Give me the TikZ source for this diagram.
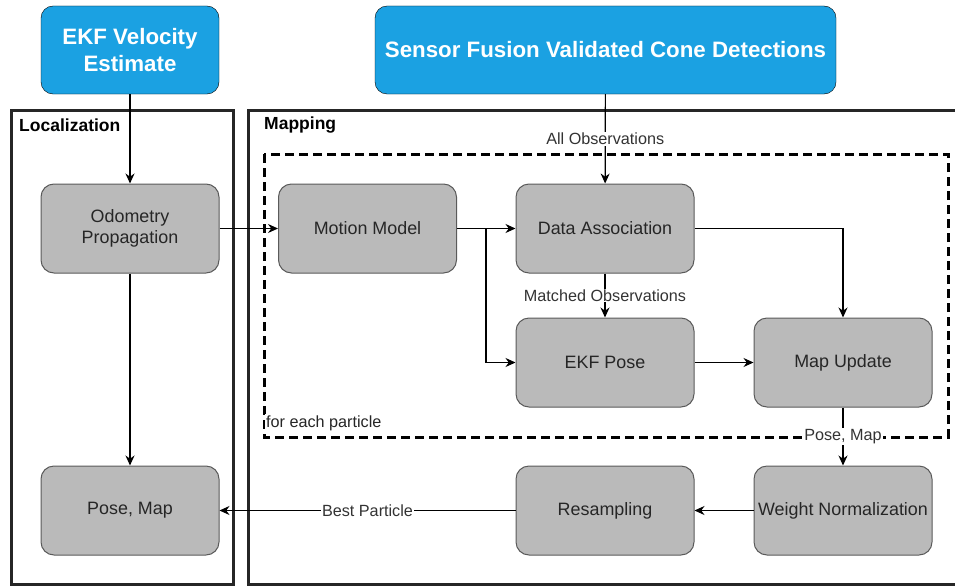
\documentclass[tikz,border=0pt]{standalone}
\usepackage{fontspec}
\setmainfont{Liberation Sans}
\usetikzlibrary{arrows.meta}

\definecolor{srcblue}{HTML}{1BA1E2}
\definecolor{blockgray}{HTML}{BABABA}
\definecolor{blockline}{HTML}{5A5A5A}

\tikzset{
  source/.style={draw=black, fill=srcblue, rounded corners=12pt, text=white,
    font=\fontsize{22.3}{27}\selectfont\bfseries, align=center,
    minimum height=88pt, inner sep=0pt},
  block/.style={draw=blockline, fill=blockgray, line width=1pt, rounded corners=13pt,
    minimum width=178pt, minimum height=89pt, align=center, text=black!85,
    font=\fontsize{17.9}{21.5}\selectfont, inner sep=0pt},
  flow/.style={-{Stealth[length=10pt,width=9pt]}, line width=1.2pt},
  lbl/.style={fill=white, inner sep=1pt, text=black!80,
    font=\fontsize{16.2}{19}\selectfont},
  frame/.style={draw=black!85, line width=3pt},
  title/.style={anchor=west, inner sep=0pt, font=\fontsize{17.5}{21}\selectfont\bfseries},
}

\begin{document}
\begin{tikzpicture}[x=1pt, y=1pt]

    \useasboundingbox (0, 0) rectangle (955, -586);

    % frames
    \draw[frame] (11, -110) rectangle (233.5, -584.5);
    \draw[frame] (248.5, -110) rectangle (980, -584.5);
    \draw[line width=3pt, dash pattern=on 9pt off 5pt] (264, -154) rectangle (948, -437);

    \node[title] (loc) at (19, -125) {Localization};
    \node[title] (map) at (264, -125) {Mapping};

    % inputs
    \node[source, minimum width=178pt] (ekfvel) at (130, -50) {EKF Velocity\\Estimate};
    \node[source, minimum width=461pt] (fusion) at (605.5, -50) {Sensor Fusion Validated Cone Detections};

    % blocks
    \node[block] (odom) at (130, -228.5) {Odometry\\Propagation};
    \node[block] (motion) at (367.5, -228.5) {Motion Model};
    \node[block] (assoc) at (605, -228.5) {Data Association};
    \node[block] (ekfpose) at (605, -362.5) {EKF Pose};
    \node[block] (mapup) at (843, -362.5) {Map Update};
    \node[block] (posemap) at (130, -510.5) {Pose, Map};
    \node[block] (resamp) at (605, -510.5) {Resampling};
    \node[block] (weight) at (843, -510.5) {Weight Normalization};

    \coordinate (split) at (486, -228.5);

    % connectors
    \draw[flow] (ekfvel) -- (odom);
    \draw[flow] (fusion) -- node[lbl] {All Observations} (assoc);
    \draw[flow] (odom) -- (motion);
    \draw[flow] (motion) -- (assoc);
    \draw[flow] (split) |- (ekfpose);
    \draw[flow] (assoc) -- node[lbl] {Matched Observations} (ekfpose);
    \draw[flow] (assoc) -| (mapup);
    \draw[flow] (ekfpose) -- (mapup);
    \draw[flow] (mapup) -- node[lbl] {Pose, Map} (weight);
    \draw[flow] (weight) -- (resamp);
    \draw[flow] (resamp) -- node[lbl] {Best Particle} (posemap);
    \draw[flow] (odom) -- (posemap);

    \node[anchor=west, fill=white, inner sep=1pt, text=black!85,
      font=\fontsize{16.2}{19}\selectfont] (each) at (265, -423) {for each particle};

  \end{tikzpicture}
\end{document}
